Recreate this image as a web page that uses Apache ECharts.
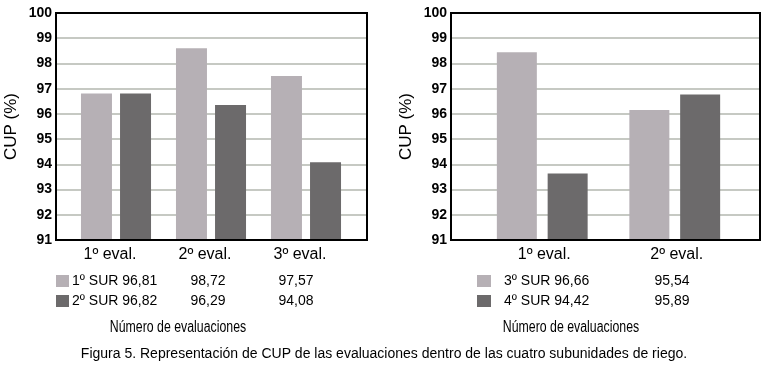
<!DOCTYPE html>
<html>
<head>
<meta charset="utf-8">
<script src="https://cdn.jsdelivr.net/npm/echarts@6/dist/echarts.min.js"></script>
<style>
html,body{margin:0;padding:0;background:#fff;}
#c{width:766px;height:370px;}
</style>
</head>
<body>
<div id="c"></div>
<script>
// ---- data ----
const leftCategories = ['1º eval.', '2º eval.', '3º eval.'];
const rightCategories = ['1º eval.', '2º eval.'];
const leftSeriesNames = ['1º SUR', '2º SUR'];
const rightSeriesNames = ['3º SUR', '4º SUR'];
// bar heights as drawn
const sur1Bars = [96.81, 98.6, 97.5];
const sur2Bars = [96.81, 96.35, 94.08];
const sur3Bars = [98.44, 96.15];
const sur4Bars = [93.64, 96.77];
// data table text as printed
const sur1Table = ['96,81', '98,72', '97,57'];
const sur2Table = ['96,82', '96,29', '94,08'];
const sur3Table = ['96,66', '95,54'];
const sur4Table = ['94,42', '95,89'];
const yTicks = [91, 92, 93, 94, 95, 96, 97, 98, 99, 100];
const yName = 'CUP (%)';
const xTitle = 'Número de evaluaciones';
const caption = 'Figura 5. Representación de CUP de las evaluaciones dentro de las cuatro subunidades de riego.';

const FONT = '"Liberation Sans", Arial, sans-serif';
const LIGHT = '#b6b0b5';
const DARK = '#6c6a6b';

const chart = echarts.init(document.getElementById('c'), null, {renderer: 'canvas'});

const yMin = yTicks[0], yMax = yTicks[yTicks.length - 1];

function frameY(gridIndex) {
  return {
    gridIndex, type: 'value', min: yMin, max: yMax, interval: 1,
    name: yName, nameLocation: 'middle', nameGap: 36, nameRotate: 90,
    nameTextStyle: {fontFamily: FONT, fontSize: 17, color: '#000'},
    axisLine: {show: false}, axisTick: {show: false},
    axisLabel: {fontFamily: FONT, fontSize: 14, fontWeight: 'bold', color: '#000', margin: 4},
    splitLine: {show: true, lineStyle: {color: '#c6c9c3', width: 2}}
  };
}
function barY(gridIndex) {
  return {gridIndex, type: 'value', min: yMin, max: yMax, interval: 1, show: false, splitLine: {show: false}};
}
function frameX(gridIndex, cats) {
  return {gridIndex, type: 'category', data: cats, show: false};
}
function barX(gridIndex, cats, pad) {
  return {
    gridIndex, type: 'category', data: cats,
    axisLine: {show: false}, axisTick: {show: false},
    axisLabel: {fontFamily: FONT, fontSize: 16, color: '#000', margin: 7, padding: pad}
  };
}

const H = 227, TOP = 13;

const option = {
  backgroundColor: '#fff',
  animation: false,
  grid: [
    {left: 56, top: TOP, width: 311, height: H, show: true, z: 10, borderColor: '#000', borderWidth: 2, backgroundColor: 'transparent'},
    {left: 68.5, top: TOP, width: 285, height: H},
    {left: 451, top: TOP, width: 309, height: H, show: true, z: 10, borderColor: '#000', borderWidth: 2, backgroundColor: 'transparent'},
    {left: 476, top: TOP, width: 265, height: H}
  ],
  xAxis: [
    frameX(0, leftCategories),
    barX(1, leftCategories, [0, 12, 0, 0]),
    frameX(2, rightCategories),
    barX(3, rightCategories, [0, 0, 0, 4])
  ],
  yAxis: [frameY(0), barY(1), frameY(2), barY(3)],
  legend: [
    {
      data: leftSeriesNames, orient: 'vertical', left: 56, top: 274, padding: 0,
      itemWidth: 13, itemHeight: 12, itemGap: 6, icon: 'rect', selectedMode: false,
      textStyle: {fontFamily: FONT, fontSize: 14, color: '#000', lineHeight: 14, padding: [0, 0, 0, -2]},
      formatter: n => n + ' ' + (n === leftSeriesNames[0] ? sur1Table[0] : sur2Table[0])
    },
    {
      data: rightSeriesNames, orient: 'vertical', left: 477, top: 274, padding: 0,
      itemWidth: 14, itemHeight: 12, itemGap: 6, icon: 'rect', selectedMode: false,
      textStyle: {fontFamily: FONT, fontSize: 14, color: '#000', lineHeight: 14, padding: [0, 0, 0, 8]},
      formatter: n => n + ' ' + (n === rightSeriesNames[0] ? sur3Table[0] : sur4Table[0])
    }
  ],
  series: [
    {name: leftSeriesNames[0], type: 'bar', xAxisIndex: 1, yAxisIndex: 1, data: sur1Bars, barWidth: 31, barGap: '26%', itemStyle: {color: LIGHT}},
    {name: leftSeriesNames[1], type: 'bar', xAxisIndex: 1, yAxisIndex: 1, data: sur2Bars, barWidth: 31, barGap: '26%', itemStyle: {color: DARK}},
    {name: rightSeriesNames[0], type: 'bar', xAxisIndex: 3, yAxisIndex: 3, data: sur3Bars, barWidth: 40, barGap: '27%', itemStyle: {color: LIGHT}},
    {name: rightSeriesNames[1], type: 'bar', xAxisIndex: 3, yAxisIndex: 3, data: sur4Bars, barWidth: 40, barGap: '27%', itemStyle: {color: DARK}}
  ],
  graphic: []
};

// table value columns (remaining columns after the first)
const tStyle = (txt, x, y) => ({
  type: 'text', x, y,
  style: {text: txt, font: '14px ' + FONT, fill: '#000', align: 'center', verticalAlign: 'middle'}
});
const leftCols = [208, 296];
const rightCols = [672];
[sur1Table, sur2Table].forEach((row, r) => {
  row.slice(1).forEach((v, i) => option.graphic.push(tStyle(v, leftCols[i], 281 + r * 20)));
});
[sur3Table, sur4Table].forEach((row, r) => {
  row.slice(1).forEach((v, i) => option.graphic.push(tStyle(v, rightCols[i], 281 + r * 20)));
});
const narrowText = (txt, x, y) => ({
  type: 'text', x, y, scaleX: 0.77,
  style: {text: txt, font: '16px ' + FONT, fill: '#000', align: 'center', verticalAlign: 'middle'}
});
option.graphic.push(narrowText(xTitle, 178, 328));
option.graphic.push(narrowText(xTitle, 571, 328));
option.graphic.push({type: 'text', x: 384, y: 354, style: {text: caption, font: '14px ' + FONT, fill: '#000', align: 'center', verticalAlign: 'middle'}});

chart.setOption(option);
</script>
</body>
</html>
